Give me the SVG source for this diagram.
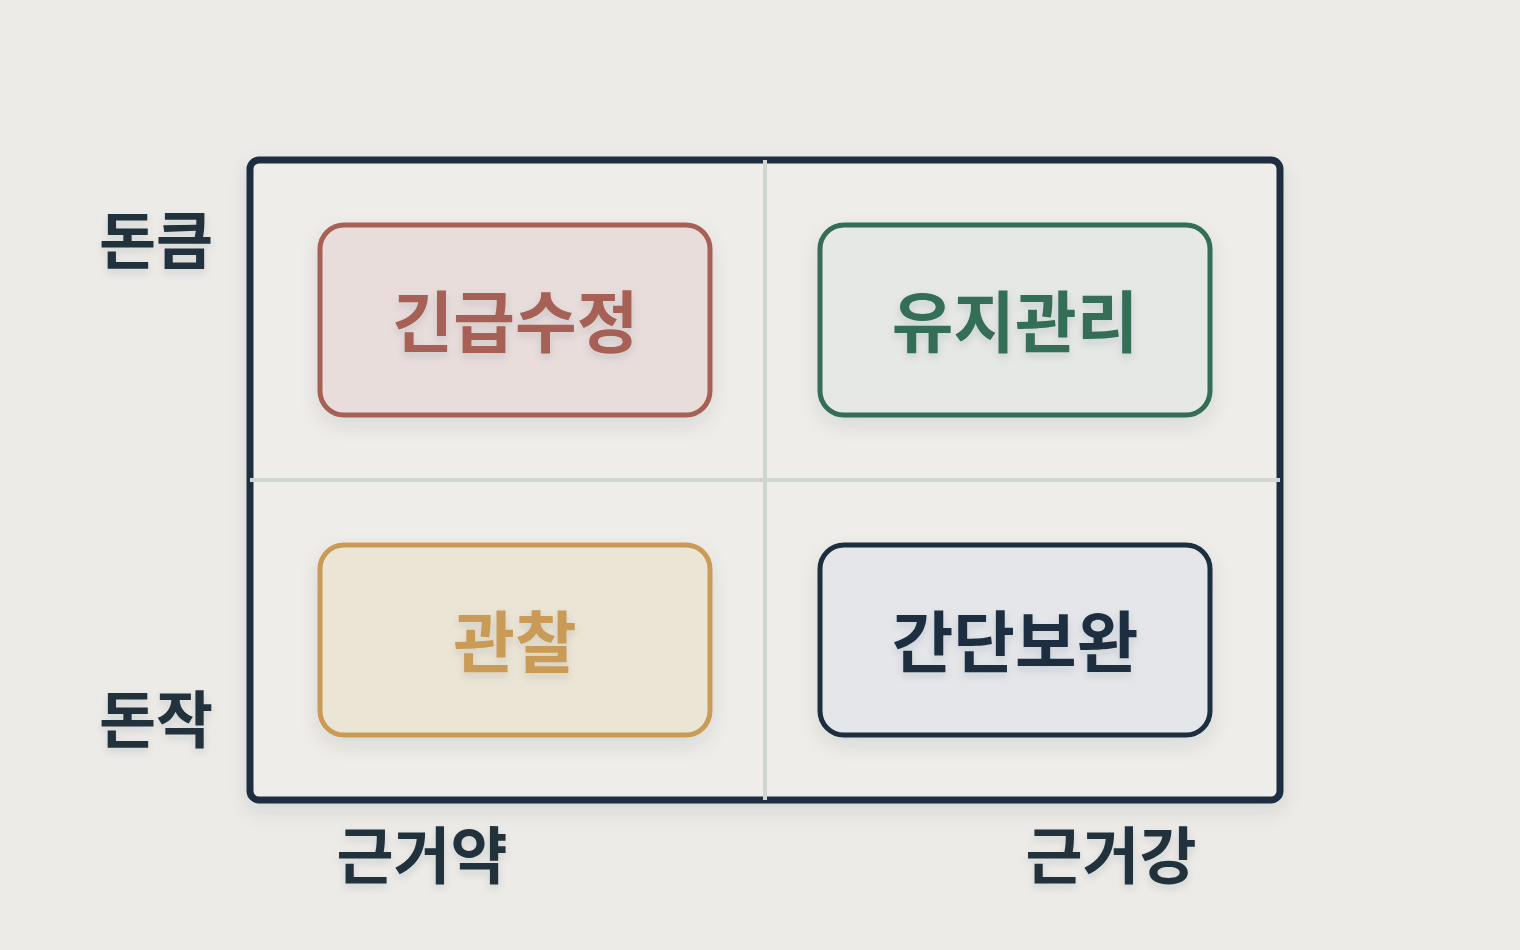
<svg xmlns="http://www.w3.org/2000/svg" width="1520" height="950" viewBox="0 0 1520 950">
  <defs>
    <filter id="shadow" x="-20%" y="-20%" width="140%" height="150%">
      <feDropShadow dx="0" dy="8" stdDeviation="9" flood-color="#1e2f40" flood-opacity="0.10"/>
    </filter>
    <filter id="tshadow" x="-20%" y="-30%" width="140%" height="170%">
      <feDropShadow dx="0" dy="4" stdDeviation="4" flood-color="#1e2f40" flood-opacity="0.12"/>
    </filter>
  </defs>
  <style>
    .lbl { font-family: "Noto Sans CJK KR", "Noto Sans", sans-serif; font-weight: 700; font-size: 62px; fill: #24313c; text-anchor: middle; dominant-baseline: central; }
    .ntxt { font-family: "Noto Sans CJK KR", "Noto Sans", sans-serif; font-weight: 700; font-size: 67px; text-anchor: middle; dominant-baseline: central; }
    .box { stroke-width: 5; }
    .div { stroke: #cfd6d0; stroke-width: 4; }
  </style>
  <rect width="1520" height="950" fill="#ecebe7"/>

  <g id="frame">
    <rect x="250" y="160" width="1030" height="640" rx="9" fill="#eeede9" stroke="#1e2f40" stroke-width="7" filter="url(#shadow)"/>
  </g>

  <g id="connectors">
    <line class="div" x1="765" y1="160" x2="765" y2="800"/>
    <line class="div" x1="250" y1="480" x2="1280" y2="480"/>
  </g>

  <g id="node-urgent">
    <rect class="box" x="320" y="225" width="390" height="190" rx="24" fill="#e8dddb" stroke="#a76154" filter="url(#shadow)"/>
    <text class="ntxt" x="515" y="317" fill="#a76154" filter="url(#tshadow)">긴급수정</text>
  </g>
  <g id="node-maintain">
    <rect class="box" x="820" y="225" width="390" height="190" rx="24" fill="#e5e8e4" stroke="#346e57" filter="url(#shadow)"/>
    <text class="ntxt" x="1015" y="317" fill="#346e57" filter="url(#tshadow)">유지관리</text>
  </g>
  <g id="node-observe">
    <rect class="box" x="320" y="545" width="390" height="190" rx="24" fill="#ebe5d5" stroke="#c99b57" filter="url(#shadow)"/>
    <text class="ntxt" x="515" y="637" fill="#c99b57" filter="url(#tshadow)">관찰</text>
  </g>
  <g id="node-supplement">
    <rect class="box" x="820" y="545" width="390" height="190" rx="24" fill="#e4e6e9" stroke="#1e2f40" filter="url(#shadow)"/>
    <text class="ntxt" x="1015" y="637" fill="#1e2f40" filter="url(#tshadow)">간단보완</text>
  </g>

  <g id="axis-labels" filter="url(#tshadow)">
    <text class="lbl" x="156" y="237">돈큼</text>
    <text class="lbl" x="156" y="716">돈작</text>
    <text class="lbl" x="422" y="852">근거약</text>
    <text class="lbl" x="1111" y="852">근거강</text>
  </g>
</svg>
